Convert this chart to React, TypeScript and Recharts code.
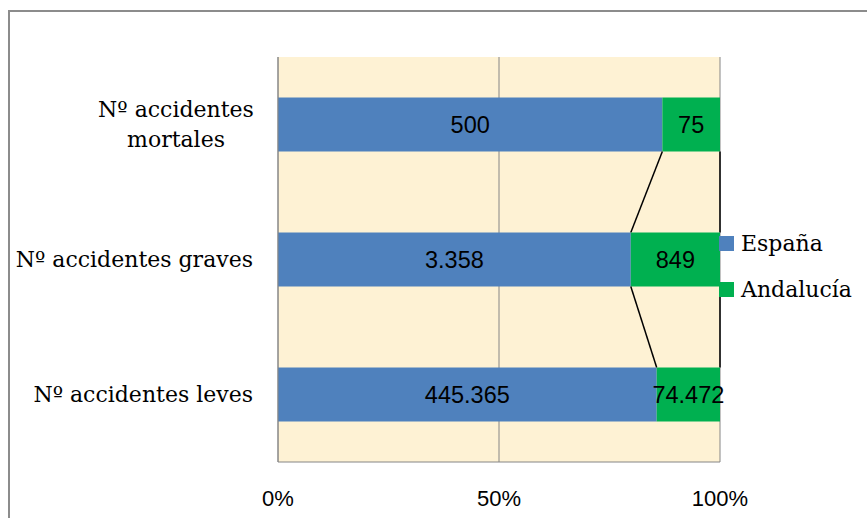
import { BarChart, Bar, XAxis, YAxis, CartesianGrid, LabelList, Legend } from "recharts";

const categories = ["Nº accidentes mortales", "Nº accidentes graves", "Nº accidentes leves"];
const categoryLines = [["Nº accidentes", "mortales"], ["Nº accidentes graves"], ["Nº accidentes leves"]];
const seriesNames = ["España", "Andalucía"];
const espana = [500, 3358, 445365];
const andalucia = [75, 849, 74472];
const xTicks = [0, 0.5, 1];

const data = categories.map((name, i) => ({ name, espana: espana[i], andalucia: andalucia[i] }));

const GAP = 0.3;
const SERIF = "'DejaVu Serif', serif";
const SANS = "'Liberation Sans', sans-serif";

const fmt = (v: any) => String(v).replace(/\B(?=(\d{3})+(?!\d))/g, ".");

function CategoryTick({ x, y, payload }: any) {
  const idx = categories.indexOf(payload.value);
  const lines = categoryLines[idx] ?? [payload.value];
  const common = { fill: "#000", fontSize: 22, fontFamily: SERIF };
  if (lines.length === 1) {
    return (
      <text x={x} y={y} dy="0.35em" textAnchor="end" {...common}>
        {lines[0]}
      </text>
    );
  }
  const cx = x - 77;
  return (
    <text textAnchor="middle" {...common}>
      {lines.map((l, k) => (
        <tspan key={k} x={cx} y={y + (k - (lines.length - 1) / 2) * 30} dy="0.35em">
          {l}
        </tspan>
      ))}
    </text>
  );
}

function AndaluciaShape(props: any) {
  const { x, y, width, height, fill, index } = props;
  const share = espana[index] / (espana[index] + andalucia[index]);
  const full = width / (1 - share);
  const left = x - share * full;
  const connectors = [];
  if (index < espana.length - 1) {
    const nextShare = espana[index + 1] / (espana[index + 1] + andalucia[index + 1]);
    const nextTop = y + height / (1 - 2 * GAP);
    connectors.push(
      <line key="a" x1={x} y1={y + height} x2={left + nextShare * full} y2={nextTop} stroke="#000" strokeWidth={1.5} />,
      <line key="b" x1={x + width} y1={y + height} x2={x + width} y2={nextTop} stroke="#000" strokeWidth={1.5} />
    );
  }
  return (
    <g>
      <rect x={x} y={y} width={width} height={height} fill={fill} />
      {connectors}
    </g>
  );
}

function LegendContent({ payload }: any) {
  const items = [...(payload || [])].sort(
    (a: any, b: any) => seriesNames.indexOf(a.value) - seriesNames.indexOf(b.value)
  );
  return (
    <div>
      {items.map((item: any) => (
        <div key={item.value} style={{ display: "flex", alignItems: "center", height: 30, marginBottom: 16 }}>
          <span style={{ width: 15, height: 15, background: item.color, display: "inline-block", marginRight: 7 }} />
          <span style={{ fontFamily: SERIF, fontSize: 22, color: "#000" }}>{item.value}</span>
        </div>
      ))}
    </div>
  );
}

export default function App() {
  return (
    <div
      style={{
        position: "absolute",
        left: 8,
        top: 10,
        width: 859,
        height: 508,
        borderLeft: "2px solid #8c8c8c",
        borderTop: "2px solid #8c8c8c",
        background: "#fff",
      }}
    >
      <BarChart
        width={857}
        height={506}
        data={data}
        layout="vertical"
        stackOffset="expand"
        barCategoryGap="30%"
        margin={{ top: 45, right: 147, bottom: 16, left: 0 }}
      >
        <CartesianGrid horizontal={false} stroke="#868686" fill="#FEF2D4" />
        <XAxis
          type="number"
          domain={[0, 1]}
          ticks={xTicks}
          tickFormatter={(v) => `${Math.round(v * 100)}%`}
          axisLine={{ stroke: "#868686" }}
          tickLine={false}
          tickMargin={22}
          height={40}
          tick={{ fill: "#000", fontSize: 22, fontFamily: SANS }}
        />
        <YAxis
          type="category"
          dataKey="name"
          width={268}
          axisLine={{ stroke: "#868686" }}
          tickLine={false}
          tickMargin={19}
          tick={<CategoryTick />}
        />
        <Legend
          align="center"
          verticalAlign="middle"
          content={<LegendContent />}
          wrapperStyle={{ left: 709, top: 216, width: "auto" }}
        />
        <Bar dataKey="espana" name={seriesNames[0]} stackId="a" fill="#4F81BD" isAnimationActive={false}>
          <LabelList dataKey="espana" position="center" formatter={fmt} fill="#000" fontSize={23.5} fontFamily={SANS} />
        </Bar>
        <Bar dataKey="andalucia" name={seriesNames[1]} stackId="a" fill="#00B050" shape={<AndaluciaShape />} isAnimationActive={false}>
          <LabelList dataKey="andalucia" position="center" formatter={fmt} fill="#000" fontSize={23.5} fontFamily={SANS} />
        </Bar>
      </BarChart>
    </div>
  );
}
